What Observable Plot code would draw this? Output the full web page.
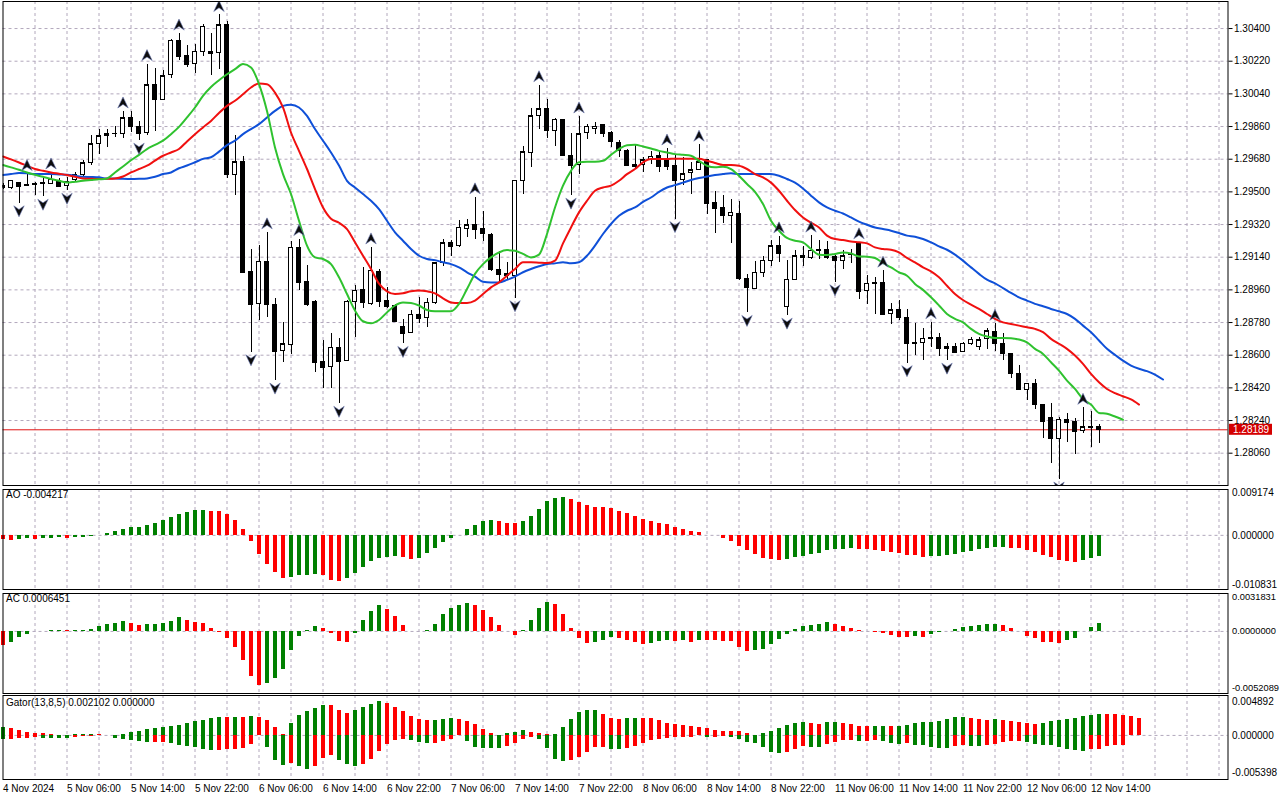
<!DOCTYPE html>
<html><head><meta charset="utf-8">
<script src="https://cdn.jsdelivr.net/npm/d3@7"></script>
<script src="https://cdn.jsdelivr.net/npm/@observablehq/plot@0.6"></script>
<style>
body{margin:0;background:#fff;}
#wrap{position:relative;width:1280px;height:800px;overflow:hidden;background:#fff;}
#wrap svg{position:absolute;left:0;}
</style></head><body><div id="wrap"></div>
<script>
// ---------- DATA (H1 bars, index 0 = 4 Nov 22:00) ----------
const open = [1.29535,1.29519,1.29549,1.29539,1.29545,1.29550,1.29545,1.29561,1.29530,1.29565,
1.29594,1.29659,1.29763,1.29807,1.29818,1.29818,1.29906,1.29859,1.29824,1.30088,
1.30007,1.30145,1.30332,1.30250,1.30204,1.30273,1.30272,1.30264,1.30420,1.29594,
1.29664,1.29060,1.28882,1.29116,1.28879,1.28622,1.28657,1.29191,1.29005,1.28892,
1.28561,1.28534,1.28640,1.28567,1.28892,1.28960,1.28882,1.29060,1.28901,1.28873,
1.28758,1.28721,1.28824,1.28805,1.28888,1.29108,1.29218,1.29200,1.29295,1.29317,
1.29295,1.29262,1.29070,1.29048,1.29037,1.29560,1.29714,1.29917,1.29956,1.29837,
1.29897,1.29699,1.29648,1.29824,1.29846,1.29870,1.29824,1.29772,1.29727,1.29646,
1.29648,1.29675,1.29699,1.29675,1.29644,1.29565,1.29602,1.29620,1.29677,1.29438,
1.29411,1.29369,1.29378,1.29020,1.28965,1.29053,1.29121,1.29200,1.28868,1.29015,
1.29149,1.29136,1.29180,1.29180,1.29139,1.29121,1.29152,1.29218,1.28952,1.28998,
1.28998,1.28827,1.28849,1.28805,1.28668,1.28666,1.28695,1.28695,1.28635,1.28644,
1.28620,1.28662,1.28644,1.28690,1.28730,1.28662,1.28607,1.28497,1.28409,1.28442,
1.28326,1.28255,1.28140,1.28244,1.28231,1.28182,1.28207,1.28207];
const high = [1.29545,1.29565,1.29552,1.29598,1.29552,1.29574,1.29607,1.29571,1.29580,1.29607,
1.29671,1.29813,1.29846,1.29842,1.29858,1.29943,1.29941,1.29888,1.30204,1.30180,
1.30167,1.30341,1.30372,1.30305,1.30314,1.30420,1.30372,1.30475,1.30439,1.29813,
1.29694,1.29185,1.29207,1.29277,1.28914,1.28778,1.29227,1.29240,1.29093,1.28901,
1.28681,1.28717,1.28693,1.28901,1.28983,1.29084,1.29194,1.29071,1.28974,1.28879,
1.28796,1.28846,1.28919,1.28910,1.29112,1.29235,1.29231,1.29341,1.29347,1.29470,
1.29391,1.29273,1.29172,1.29112,1.29560,1.29750,1.29961,1.30088,1.30007,1.29905,
1.29901,1.29824,1.29916,1.29873,1.29882,1.29873,1.29831,1.29785,1.29732,1.29754,
1.29690,1.29723,1.29721,1.29739,1.29699,1.29690,1.29662,1.29760,1.29681,1.29503,
1.29479,1.29460,1.29446,1.29044,1.29116,1.29143,1.29231,1.29255,1.29121,1.29176,
1.29198,1.29259,1.29231,1.29226,1.29148,1.29176,1.29185,1.29222,1.29038,1.29029,
1.29066,1.28883,1.28901,1.28850,1.28776,1.28749,1.28782,1.28717,1.28666,1.28666,
1.28672,1.28699,1.28699,1.28745,1.28773,1.28717,1.28612,1.28543,1.28446,1.28466,
1.28330,1.28332,1.28255,1.28277,1.28250,1.28310,1.28290,1.28216];
const low = [1.29515,1.29514,1.29437,1.29530,1.29479,1.29473,1.29538,1.29525,1.29506,1.29552,
1.29585,1.29648,1.29708,1.29745,1.29800,1.29796,1.29828,1.29782,1.29809,1.29831,
1.30002,1.30127,1.30222,1.30185,1.30152,1.30246,1.30139,1.30172,1.29571,1.29482,
1.29048,1.28616,1.28790,1.28805,1.28460,1.28558,1.28602,1.28956,1.28868,1.28506,
1.28415,1.28415,1.28332,1.28567,1.28699,1.28860,1.28873,1.28864,1.28860,1.28782,
1.28662,1.28717,1.28776,1.28754,1.28882,1.29090,1.29143,1.29194,1.29249,1.29237,
1.29227,1.29062,1.29005,1.29011,1.28914,1.29484,1.29635,1.29846,1.29796,1.29750,
1.29699,1.29479,1.29598,1.29791,1.29814,1.29800,1.29745,1.29690,1.29640,1.29626,
1.29607,1.29653,1.29607,1.29620,1.29350,1.29534,1.29488,1.29616,1.29378,1.29273,
1.29323,1.29218,1.29011,1.28833,1.28961,1.29026,1.29090,1.29112,1.28818,1.29011,
1.29090,1.29130,1.29130,1.29130,1.29002,1.29070,1.29103,1.28906,1.28879,1.28827,
1.28822,1.28767,1.28791,1.28556,1.28598,1.28571,1.28644,1.28593,1.28570,1.28607,
1.28613,1.28653,1.28626,1.28629,1.28620,1.28571,1.28473,1.28405,1.28350,1.28299,
1.28140,1.28002,1.27915,1.28121,1.28053,1.28171,1.28093,1.28116];
const close = [1.29525,1.29560,1.29530,1.29534,1.29538,1.29545,1.29567,1.29530,1.29552,1.29594,
1.29657,1.29763,1.29807,1.29818,1.29820,1.29906,1.29859,1.29824,1.30088,1.30011,
1.30138,1.30332,1.30246,1.30204,1.30273,1.30409,1.30264,1.30418,1.29594,1.29664,
1.29053,1.28882,1.29116,1.28877,1.28622,1.28659,1.29191,1.29002,1.28882,1.28561,
1.28534,1.28640,1.28567,1.28895,1.28956,1.28892,1.29066,1.28895,1.28868,1.28785,
1.28721,1.28822,1.28804,1.28888,1.29108,1.29218,1.29200,1.29301,1.29317,1.29295,
1.29268,1.29070,1.29044,1.29038,1.29560,1.29717,1.29917,1.29956,1.29837,1.29897,
1.29703,1.29648,1.29818,1.29860,1.29860,1.29824,1.29776,1.29727,1.29648,1.29642,
1.29675,1.29694,1.29640,1.29640,1.29565,1.29598,1.29620,1.29662,1.29438,1.29411,
1.29369,1.29385,1.29020,1.28971,1.29053,1.29121,1.29200,1.29163,1.29015,1.29145,
1.29136,1.29176,1.29178,1.29136,1.29121,1.29145,1.29156,1.28952,1.28993,1.28994,
1.28827,1.28849,1.28809,1.28662,1.28664,1.28690,1.28692,1.28635,1.28644,1.28613,
1.28662,1.28684,1.28681,1.28732,1.28662,1.28607,1.28497,1.28409,1.28442,1.28326,
1.28237,1.28140,1.28244,1.28231,1.28182,1.28204,1.28204,1.28189];

// Alligator lines as drawn (already shifted forward)
const jaw = [1.29593,1.29598,1.29604,1.29602,1.29598,1.29598,1.29598,1.29596,1.29594,1.29589,
1.29583,1.29582,1.29580,1.29574,1.29574,1.29572,1.29571,1.29572,1.29574,1.29583,
1.29598,1.29607,1.29630,1.29645,1.29663,1.29682,1.29691,1.29722,1.29758,1.29782,
1.29818,1.29846,1.29873,1.29910,1.29946,1.29974,1.29980,1.29965,1.29919,1.29846,
1.29782,1.29717,1.29645,1.29561,1.29524,1.29488,1.29451,1.29405,1.29341,1.29277,
1.29231,1.29185,1.29148,1.29130,1.29124,1.29112,1.29102,1.29084,1.29057,1.29033,
1.29005,1.29001,1.29001,1.29015,1.29033,1.29057,1.29075,1.29090,1.29102,1.29106,
1.29112,1.29106,1.29112,1.29148,1.29204,1.29268,1.29323,1.29368,1.29396,1.29414,
1.29445,1.29469,1.29500,1.29524,1.29537,1.29551,1.29565,1.29576,1.29585,1.29593,
1.29598,1.29602,1.29598,1.29598,1.29598,1.29598,1.29598,1.29589,1.29571,1.29551,
1.29519,1.29479,1.29442,1.29414,1.29396,1.29381,1.29359,1.29336,1.29319,1.29304,
1.29295,1.29286,1.29273,1.29259,1.29253,1.29240,1.29222,1.29200,1.29181,1.29154,
1.29121,1.29084,1.29048,1.29016,1.28996,1.28970,1.28943,1.28919,1.28901,1.28883,
1.28870,1.28855,1.28842,1.28827,1.28800,1.28763,1.28727,1.28681,1.28635,1.28602,
1.28570,1.28543,1.28525,1.28512,1.28493,1.28466];
const teeth = [1.29695,1.29679,1.29662,1.29644,1.29626,1.29616,1.29607,1.29600,1.29593,1.29583,
1.29574,1.29572,1.29571,1.29572,1.29574,1.29585,1.29607,1.29626,1.29644,1.29672,
1.29699,1.29717,1.29736,1.29778,1.29818,1.29855,1.29891,1.29935,1.29974,1.30002,
1.30038,1.30075,1.30097,1.30093,1.30047,1.29965,1.29827,1.29726,1.29626,1.29515,
1.29414,1.29352,1.29330,1.29295,1.29222,1.29148,1.29075,1.28994,1.28952,1.28937,
1.28941,1.28952,1.28956,1.28952,1.28941,1.28913,1.28891,1.28888,1.28888,1.28901,
1.28937,1.28974,1.29001,1.29038,1.29075,1.29112,1.29112,1.29110,1.29108,1.29121,
1.29216,1.29304,1.29387,1.29451,1.29506,1.29524,1.29534,1.29561,1.29598,1.29626,
1.29663,1.29681,1.29681,1.29681,1.29683,1.29683,1.29683,1.29683,1.29671,1.29659,
1.29648,1.29648,1.29644,1.29626,1.29598,1.29580,1.29551,1.29506,1.29451,1.29400,
1.29359,1.29330,1.29304,1.29259,1.29240,1.29235,1.29227,1.29222,1.29216,1.29194,
1.29185,1.29181,1.29166,1.29136,1.29112,1.29084,1.29062,1.29029,1.28983,1.28937,
1.28904,1.28879,1.28855,1.28827,1.28800,1.28781,1.28772,1.28763,1.28754,1.28745,
1.28727,1.28690,1.28663,1.28635,1.28598,1.28552,1.28497,1.28451,1.28414,1.28391,
1.28374,1.28356,1.28328];
const lips = [1.29648,1.29635,1.29622,1.29607,1.29594,1.29583,1.29571,1.29561,1.29551,1.29556,
1.29561,1.29565,1.29569,1.29574,1.29607,1.29640,1.29674,1.29704,1.29736,1.29759,
1.29782,1.29818,1.29858,1.29910,1.29965,1.30029,1.30078,1.30115,1.30148,1.30176,
1.30204,1.30185,1.30094,1.29946,1.29745,1.29598,1.29488,1.29341,1.29204,1.29139,
1.29130,1.29102,1.29029,1.28937,1.28846,1.28787,1.28776,1.28794,1.28836,1.28874,
1.28891,1.28888,1.28874,1.28849,1.28842,1.28842,1.28842,1.28883,1.28965,1.29048,
1.29102,1.29139,1.29166,1.29179,1.29175,1.29158,1.29139,1.29154,1.29268,1.29414,
1.29534,1.29616,1.29663,1.29666,1.29666,1.29671,1.29704,1.29736,1.29757,1.29759,
1.29750,1.29739,1.29726,1.29717,1.29708,1.29704,1.29699,1.29671,1.29644,1.29635,
1.29638,1.29626,1.29589,1.29543,1.29500,1.29433,1.29341,1.29286,1.29246,1.29231,
1.29222,1.29185,1.29154,1.29152,1.29158,1.29166,1.29161,1.29144,1.29143,1.29136,
1.29108,1.29084,1.29057,1.29038,1.28993,1.28960,1.28919,1.28874,1.28827,1.28800,
1.28781,1.28745,1.28717,1.28703,1.28695,1.28695,1.28693,1.28686,1.28671,1.28635,
1.28607,1.28561,1.28515,1.28460,1.28414,1.28359,1.28328,1.28282,1.28277,1.28262,
1.28244];

const fractalUp = [3,6,15,18,22,27,33,37,46,59,67,72,83,87,97,101,107,110,116,124,135];
const fractalDown = [2,5,8,17,31,34,42,50,64,71,84,93,98,104,113,118,132];

const ao = [-0.00080,-0.00093,-0.00087,-0.00067,-0.00073,-0.00067,-0.00060,-0.00040,-0.00053,-0.00047,
-0.00045,-0.00027,-0.00007,0.00047,0.00087,0.00127,0.00160,0.00167,0.00207,0.00247,
0.00293,0.00353,0.00427,0.00453,0.00493,0.00507,0.00487,0.00480,0.00427,0.00307,
0.00127,-0.00127,-0.00387,-0.00573,-0.00753,-0.00867,-0.00840,-0.00813,-0.00807,-0.00793,
-0.00807,-0.00900,-0.00927,-0.00867,-0.00767,-0.00647,-0.00527,-0.00460,-0.00440,-0.00427,
-0.00447,-0.00473,-0.00453,-0.00367,-0.00253,-0.00133,-0.00053,0.00007,0.00113,0.00207,
0.00280,0.00293,0.00287,0.00247,0.00233,0.00273,0.00387,0.00527,0.00673,0.00747,
0.00767,0.00727,0.00653,0.00607,0.00567,0.00553,0.00533,0.00487,0.00433,0.00387,
0.00320,0.00280,0.00247,0.00227,0.00167,0.00120,0.00087,0.00067,0.00007,-0.00007,
-0.00067,-0.00113,-0.00213,-0.00307,-0.00387,-0.00453,-0.00487,-0.00493,-0.00487,-0.00440,
-0.00427,-0.00387,-0.00367,-0.00307,-0.00287,-0.00280,-0.00267,-0.00273,-0.00287,-0.00293,
-0.00313,-0.00333,-0.00367,-0.00393,-0.00407,-0.00433,-0.00427,-0.00420,-0.00407,-0.00387,
-0.00347,-0.00320,-0.00287,-0.00267,-0.00250,-0.00247,-0.00253,-0.00267,-0.00300,-0.00347,
-0.00393,-0.00447,-0.00507,-0.00527,-0.00533,-0.00493,-0.00467,-0.004217];
const ac = [-0.00120,-0.00090,-0.00048,-0.00022,-0.00003,0.00003,0.00006,0.00007,0.00006,0.00007,
0.00008,0.00017,0.00042,0.00059,0.00067,0.00084,0.00067,0.00053,0.00059,0.00060,
0.00067,0.00084,0.00117,0.00092,0.00076,0.00064,0.00025,-0.00006,-0.00056,-0.00131,
-0.00243,-0.00378,-0.00450,-0.00434,-0.00392,-0.00316,-0.00157,-0.00042,0.00006,0.00042,
0.00025,-0.00014,-0.00084,-0.00092,-0.00014,0.00092,0.00168,0.00218,0.00187,0.00126,
0.00053,-0.00003,-0.00004,0.00008,0.00059,0.00143,0.00193,0.00218,0.00235,0.00218,
0.00176,0.00117,0.00050,-0.00003,-0.00031,0.00006,0.00092,0.00193,0.00243,0.00229,
0.00143,0.00025,-0.00056,-0.00098,-0.00092,-0.00076,-0.00048,-0.00056,-0.00076,-0.00092,
-0.00106,-0.00098,-0.00084,-0.00078,-0.00084,-0.00076,-0.00090,-0.00073,-0.00074,-0.00076,
-0.00084,-0.00087,-0.00131,-0.00168,-0.00159,-0.00148,-0.00112,-0.00070,-0.00022,0.00017,
0.00045,0.00053,0.00056,0.00076,0.00062,0.00045,0.00025,0.00008,0.00003,-0.00011,
-0.00017,-0.00034,-0.00048,-0.00049,-0.00045,-0.00048,-0.00025,-0.00011,-0.00001,0.00020,
0.00034,0.00045,0.00053,0.00059,0.00060,0.00053,0.00025,-0.00003,-0.00039,-0.00062,
-0.00090,-0.00091,-0.00098,-0.00076,-0.00059,-0.00003,0.00036,0.0006451];
const gatorUp = [0.00103,0.00081,0.00059,0.00042,0.00028,0.00018,0.00009,0.00004,0.00002,0.00006,
0.00009,0.00010,0.00008,0.00002,0.00000,0.00013,0.00037,0.00053,0.00070,0.00088,
0.00101,0.00110,0.00116,0.00143,0.00165,0.00184,0.00211,0.00224,0.00217,0.00220,
0.00218,0.00229,0.00224,0.00184,0.00101,0.00009,0.00152,0.00239,0.00294,0.00330,
0.00367,0.00365,0.00303,0.00266,0.00303,0.00339,0.00376,0.00413,0.00391,0.00339,
0.00290,0.00233,0.00193,0.00178,0.00184,0.00198,0.00211,0.00196,0.00169,0.00132,
0.00068,0.00028,0.00000,0.00024,0.00042,0.00055,0.00037,0.00020,0.00006,0.00015,
0.00101,0.00198,0.00275,0.00303,0.00303,0.00257,0.00211,0.00193,0.00202,0.00211,
0.00207,0.00206,0.00178,0.00150,0.00139,0.00125,0.00112,0.00101,0.00086,0.00066,
0.00050,0.00046,0.00046,0.00028,0.00000,0.00018,0.00046,0.00083,0.00119,0.00152,
0.00160,0.00147,0.00138,0.00156,0.00156,0.00147,0.00132,0.00114,0.00106,0.00110,
0.00110,0.00105,0.00106,0.00123,0.00141,0.00156,0.00160,0.00171,0.00198,0.00217,
0.00217,0.00206,0.00193,0.00189,0.00196,0.00189,0.00171,0.00156,0.00147,0.00138,
0.00143,0.00165,0.00180,0.00193,0.00208,0.00229,0.00245,0.00261,0.00257,0.00255,
0.00245,0.00229,0.002102];
const gatorDown = [-0.00048,-0.00044,-0.00040,-0.00037,-0.00031,-0.00033,-0.00037,-0.00039,-0.00040,-0.00028,
-0.00013,-0.00007,-0.00002,-0.00002,-0.00033,-0.00055,-0.00068,-0.00079,-0.00092,-0.00088,
-0.00083,-0.00101,-0.00123,-0.00132,-0.00147,-0.00174,-0.00187,-0.00180,-0.00174,-0.00174,
-0.00165,-0.00110,-0.00004,-0.00147,-0.00303,-0.00367,-0.00339,-0.00385,-0.00422,-0.00376,
-0.00284,-0.00248,-0.00303,-0.00358,-0.00376,-0.00361,-0.00299,-0.00198,-0.00114,-0.00064,
-0.00050,-0.00064,-0.00083,-0.00103,-0.00099,-0.00072,-0.00050,-0.00006,-0.00077,-0.00147,
-0.00165,-0.00165,-0.00165,-0.00141,-0.00101,-0.00046,-0.00028,-0.00044,-0.00160,-0.00294,
-0.00321,-0.00312,-0.00266,-0.00206,-0.00150,-0.00147,-0.00171,-0.00174,-0.00160,-0.00134,
-0.00097,-0.00064,-0.00051,-0.00042,-0.00031,-0.00028,-0.00022,-0.00006,-0.00028,-0.00024,
-0.00009,-0.00022,-0.00055,-0.00083,-0.00101,-0.00147,-0.00211,-0.00220,-0.00206,-0.00169,
-0.00138,-0.00147,-0.00150,-0.00106,-0.00083,-0.00068,-0.00066,-0.00077,-0.00070,-0.00059,
-0.00077,-0.00097,-0.00110,-0.00097,-0.00119,-0.00125,-0.00143,-0.00156,-0.00156,-0.00138,
-0.00123,-0.00134,-0.00138,-0.00125,-0.00105,-0.00086,-0.00079,-0.00077,-0.00083,-0.00110,
-0.00119,-0.00128,-0.00147,-0.00174,-0.00184,-0.00193,-0.00169,-0.00169,-0.00138,-0.00128,
-0.00125];

const priceTicks = [1.30400,1.30220,1.30040,1.29860,1.29680,1.29500,1.29320,1.29140,1.28960,1.28780,1.28600,1.28420,1.28240,1.28060];
const priceDomain = [1.27882, 1.30549];
const aoDomain = [-0.010831, 0.009174];
const acDomain = [-0.0052089, 0.0031831];
const gatorDomain = [-0.005398, 0.004892];
const timeLabels = ["4 Nov 2024","5 Nov 06:00","5 Nov 14:00","5 Nov 22:00","6 Nov 06:00","6 Nov 14:00","6 Nov 22:00","7 Nov 06:00","7 Nov 14:00","7 Nov 22:00","8 Nov 06:00","8 Nov 14:00","8 Nov 22:00","11 Nov 06:00","11 Nov 14:00","11 Nov 22:00","12 Nov 06:00","12 Nov 14:00"];
const barsPerLabel = 8;

// ---------- STYLE / LAYOUT ----------
const XMAX = 153.125;
const FONT = '"Liberation Sans", Arial, sans-serif';
const GRID = "#b2a8bc";
const GREEN = "#008000", RED = "#ff0000";
const gridK = d3.range(4, 153, 4);

const base = (h, mt, mb) => ({
  width: 1280, height: h, marginLeft: 2.5, marginRight: 52.5, marginTop: mt, marginBottom: mb,
  x: {domain: [0, XMAX], axis: null},
  color: {type: "identity"},
  style: {fontFamily: FONT, fontSize: "10px", color: "#000", background: "transparent", overflow: "visible"}
});

function colorize(vals, first, keepOnTie, useAbs) {
  let c = first;
  return vals.map((v, i) => {
    if (i > 0) {
      const a = useAbs ? Math.abs(v) : v, p = useAbs ? Math.abs(vals[i-1]) : vals[i-1];
      if (a > p) c = GREEN; else if (a < p || !keepOnTie) c = RED;
    }
    return c;
  });
}
const histo = (vals, cols) => vals.map((v, i) => ({k: i, v, c: cols[i]}));
const series = arr => arr.map((v, i) => ({k: i, v}));

const upSym = {draw(ctx, size) { const s = Math.sqrt(size / Math.PI);
  ctx.moveTo(0, -s); ctx.lineTo(s * 0.95, s); ctx.lineTo(0, s * 0.35); ctx.lineTo(-s * 0.95, s); ctx.closePath(); }};
const downSym = {draw(ctx, size) { const s = Math.sqrt(size / Math.PI);
  ctx.moveTo(0, s); ctx.lineTo(s * 0.95, -s); ctx.lineTo(0, -s * 0.35); ctx.lineTo(-s * 0.95, -s); ctx.closePath(); }};

function sideLabels(domain, digits, dyTop, dyBot, fs) {
  const fmt = v => v.toFixed(digits);
  const o = {x: XMAX, dx: 4, textAnchor: "start", lineAnchor: "middle", text: d => fmt(d), fontSize: fs};
  return [
    Plot.text([domain[1]], {...o, y: d => d, dy: dyTop}),
    Plot.text([0], {...o, y: d => d}),
    Plot.text([domain[0]], {...o, y: d => d, dy: dyBot})
  ];
}
const place = (svg, top) => { svg.style.top = top + "px"; document.getElementById("wrap").appendChild(svg); return svg; };

// ---------- MAIN PRICE PANEL ----------
const candles = open.map((o, i) => ({k: i, open: o, high: high[i], low: low[i], close: close[i]}));
const lastClose = close[close.length - 1];
const main = Plot.plot({
  ...base(487, 1, 2),
  y: {domain: priceDomain, axis: null},
  marks: [
    Plot.ruleY(priceTicks, {stroke: GRID, strokeDasharray: "3,3"}),
    Plot.ruleX(gridK, {stroke: GRID, strokeDasharray: "3,3"}),
    Plot.ruleY([lastClose], {stroke: "#e01414"}),
    Plot.ruleX(candles, {x: "k", y1: "low", y2: "high", stroke: "#000", clip: true, shapeRendering: "crispEdges"}),
    Plot.rect(candles, {x1: d => d.k - 0.27, x2: d => d.k + 0.27, y1: "open", y2: "close",
      fill: d => d.close > d.open ? "#fff" : "#000", stroke: "#000", clip: true, shapeRendering: "crispEdges"}),
    Plot.ruleY(candles, {x1: d => d.k - 0.27, x2: d => d.k + 0.27, y: "close", stroke: "#000", clip: true, shapeRendering: "crispEdges"}),
    Plot.line(series(jaw), {x: "k", y: "v", stroke: "#0f50d8", strokeWidth: 2, curve: "monotone-x", clip: true}),
    Plot.line(series(teeth), {x: "k", y: "v", stroke: "#f01010", strokeWidth: 2, curve: "monotone-x", clip: true}),
    Plot.line(series(lips), {x: "k", y: "v", stroke: "#2fc22f", strokeWidth: 2, curve: "monotone-x", clip: true}),
    Plot.dot(fractalUp, {x: d => d, y: d => high[d], symbol: upSym, r: 5.5, fill: "#0d0d0d", stroke: "#6c78b4", strokeWidth: 0.6, dy: -9, clip: true}),
    Plot.dot(fractalDown, {x: d => d, y: d => low[d], symbol: downSym, r: 5.5, fill: "#0d0d0d", stroke: "#6c78b4", strokeWidth: 0.6, dy: 8, clip: true}),
    Plot.axisY(priceTicks, {anchor: "right", tickSize: 4, tickPadding: 2, tickFormat: d => d.toFixed(5), label: null}),
    Plot.frame({stroke: "#000"})
  ]
});
place(main, 0);
{
  const sy = main.scale("y"), sx = main.scale("x");
  const yv = sy.apply(lastClose), xv = sx.apply(XMAX);
  const g = d3.select(main).append("g");
  g.append("rect").attr("x", xv + 1.5).attr("y", yv - 5.5).attr("width", 43).attr("height", 11).attr("fill", "#d40000");
  g.append("text").attr("x", xv + 5.5).attr("y", yv).attr("dy", "0.35em").attr("fill", "#fff")
    .attr("text-anchor", "start").attr("font-family", FONT).attr("font-size", 10).text(lastClose.toFixed(5));
}

// ---------- AO ----------
const aoChart = Plot.plot({
  ...base(104, 2, 2),
  y: {domain: aoDomain, axis: null},
  marks: [
    Plot.ruleX(gridK, {stroke: GRID, strokeDasharray: "3,3"}),
    Plot.ruleY([0], {stroke: GRID, strokeDasharray: "3,3"}),
    Plot.rect(histo(ao, colorize(ao, RED, false, false)), {x1: d => d.k - 0.25, x2: d => d.k + 0.25, y1: 0, y2: "v", fill: "c", shapeRendering: "crispEdges"}),
    Plot.text([`AO ${ao[ao.length - 1].toFixed(6)}`], {frameAnchor: "top-left", dx: 3, dy: 1, textAnchor: "start", lineAnchor: "top"}),
    ...sideLabels(aoDomain, 6, 3, -4.5, 10),
    Plot.frame({stroke: "#000"})
  ]
});
place(aoChart, 487);

// ---------- AC ----------
const acChart = Plot.plot({
  ...base(105, 3, 2),
  y: {domain: acDomain, axis: null},
  marks: [
    Plot.ruleX(gridK, {stroke: GRID, strokeDasharray: "3,3"}),
    Plot.ruleY([0], {stroke: GRID, strokeDasharray: "3,3"}),
    Plot.rect(histo(ac, colorize(ac, RED, false, false)), {x1: d => d.k - 0.25, x2: d => d.k + 0.25, y1: 0, y2: "v", fill: "c", shapeRendering: "crispEdges"}),
    Plot.text([`AC ${ac[ac.length - 1].toFixed(7)}`], {frameAnchor: "top-left", dx: 3, dy: 1, textAnchor: "start", lineAnchor: "top"}),
    ...sideLabels(acDomain, 7, 4, -5.5, 9.3),
    Plot.frame({stroke: "#000"})
  ]
});
place(acChart, 590);

// ---------- GATOR ----------
const lastUp = gatorUp[gatorUp.length - 1];
const lastDown = gatorDown.length === gatorUp.length ? gatorDown[gatorDown.length - 1] : 0;
const gatorChart = Plot.plot({
  ...base(106, 1, 21),
  y: {domain: gatorDomain, axis: null},
  marks: [
    Plot.ruleX(gridK, {stroke: GRID, strokeDasharray: "3,3"}),
    Plot.ruleY([0], {stroke: GRID, strokeDasharray: "3,3"}),
    Plot.rect(histo(gatorUp, colorize(gatorUp, GREEN, true, true)), {x1: d => d.k - 0.25, x2: d => d.k + 0.25, y1: 0, y2: "v", fill: "c", shapeRendering: "crispEdges"}),
    Plot.rect(histo(gatorDown, colorize(gatorDown, GREEN, true, true)), {x1: d => d.k - 0.25, x2: d => d.k + 0.25, y1: 0, y2: "v", fill: "c", shapeRendering: "crispEdges"}),
    Plot.text([`Gator(13,8,5) ${lastUp.toFixed(6)} ${Math.abs(lastDown).toFixed(6)}`], {frameAnchor: "top-left", dx: 3, dy: 3, textAnchor: "start", lineAnchor: "top"}),
    ...sideLabels(gatorDomain, 6, 6, -6.5, 10),
    Plot.text(timeLabels, {x: (d, i) => i * barsPerLabel, frameAnchor: "bottom", dy: 9.5, textAnchor: "start", lineAnchor: "middle"}),
    Plot.frame({stroke: "#000"})
  ]
});
place(gatorChart, 694);
</script></body></html>
